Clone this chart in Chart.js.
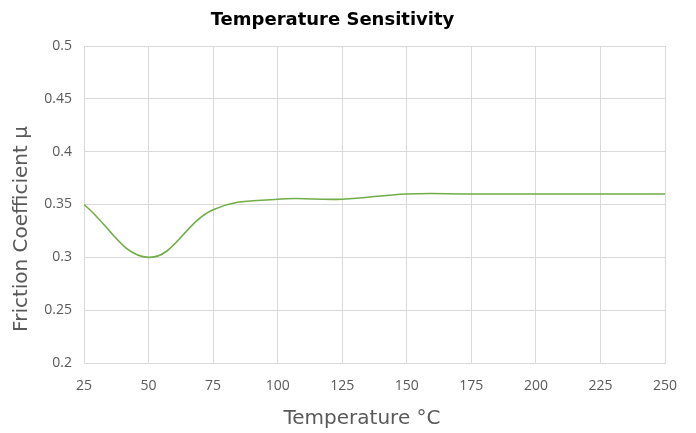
<!DOCTYPE html>
<html>
<head>
<meta charset="utf-8">
<script src="https://cdn.jsdelivr.net/npm/chart.js@4"></script>
<style>
  body { margin: 0; background: #fff; }
</style>
</head>
<body>
<canvas id="chart" width="696" height="433"></canvas>
<script>
"use strict";
// values
const temperatures = [25, 50, 75, 100, 125, 150, 175, 200, 225, 250];
const friction = [0.35, 0.30, 0.345, 0.355, 0.355, 0.36, 0.36, 0.36, 0.36, 0.36];
const xTitle = "Temperature °C";
const yTitle = "Friction Coefficient μ";

const points = temperatures.map((t, i) => ({ x: t, y: friction[i] }));
const tickFont = "'Open Sans', sans-serif";
const titleFont = "'DejaVu Sans', sans-serif";
const grey = "#595959";
const gridColor = "#d9d9d9";

// axis titles sit off the plot centre in the original, so draw them by hand
const axisTitlePlugin = {
  id: "axisTitles",
  afterDraw(chart) {
    const ctx = chart.ctx;
    ctx.save();
    ctx.font = "20px " + titleFont;
    ctx.fillStyle = grey;
    ctx.textAlign = "center";
    ctx.textBaseline = "middle";
    ctx.fillText(xTitle, 362, 419);
    ctx.translate(22, 229);
    ctx.rotate(-Math.PI / 2);
    ctx.fillText(yTitle, 0, 0);
    ctx.restore();
  },
};

new Chart(document.getElementById("chart"), {
  type: "line",
  data: {
    datasets: [
      {
        data: points,
        borderColor: "#70ad47",
        borderWidth: 1.6,
        pointRadius: 0,
        tension: 0.4,
        fill: false,
      },
    ],
  },
  options: {
    responsive: false,
    animation: false,
    layout: { padding: { left: 0, right: 31, top: 0, bottom: 0 } },
    plugins: {
      legend: { display: false },
      tooltip: { enabled: false },
      title: {
        display: true,
        text: "Temperature Sensitivity",
        color: "#000",
        font: { family: titleFont, size: 18, weight: "bold", lineHeight: 1.2 },
        padding: { top: 10, bottom: 14.4 },
      },
    },
    scales: {
      x: {
        type: "linear",
        min: 25,
        max: 250,
        afterFit: (scale) => { scale.height = 70; },
        ticks: { stepSize: 25, color: grey, font: { family: tickFont, size: 14 }, padding: 15, maxRotation: 0 },
        grid: { color: gridColor, drawTicks: false },
        border: { color: gridColor },
      },
      y: {
        min: 0.2,
        max: 0.5,
        afterFit: (scale) => { scale.width = 84; },
        ticks: {
          stepSize: 0.05,
          color: grey,
          font: { family: tickFont, size: 14 },
          padding: 12,
          callback: (v) => String(Number(v.toFixed(2))),
        },
        grid: { color: gridColor, drawTicks: false },
        border: { color: gridColor },
      },
    },
  },
  plugins: [axisTitlePlugin],
});
</script>
</body>
</html>
